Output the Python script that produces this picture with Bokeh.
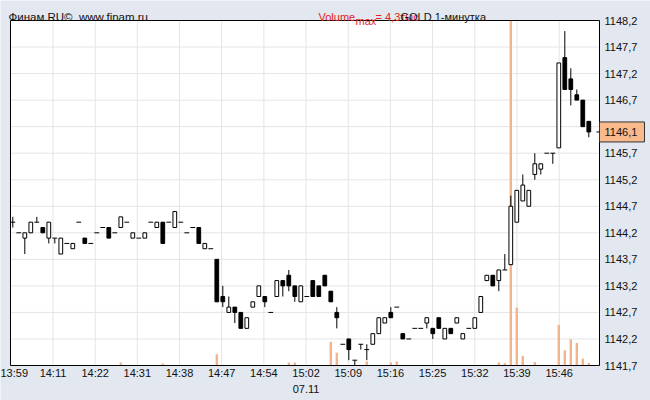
from bokeh.plotting import figure
from bokeh.models import (Range1d, FixedTicker, Label, ColumnDataSource,
                          CustomJSTickFormatter)
from bokeh.embed import file_html
from bokeh.resources import INLINE

# ---------------- data (1-minute GOLD candles) ----------------
opens = [1144.4, 1144.2, 1144.1, 1144.2, 1144.4, 1144.3, 1144.1, 1144.1, 1143.8, 1144.0,
         1143.9, 1144.4, 1144.1, 1144.0, 1144.2, 1144.3, 1144.3, 1144.2, 1144.3, 1144.4,
         1144.1, 1144.1, 1144.1, 1144.4, 1144.3, 1144.4, 1144.4, 1144.3, 1144.4, 1144.2,
         1144.3, 1144.3, 1143.9, 1143.9, 1143.7, 1143.0, 1142.7, 1142.8, 1142.7, 1142.4,
         1142.8, 1143.0, 1143.0, 1142.7, 1143.0, 1143.3, 1143.4, 1143.2, 1142.9, 1143.0,
         1143.3, 1143.2, 1143.4, 1143.1, 1142.7, 1142.1, 1142.2, 1141.8, 1142.1, 1142.0,
         1142.1, 1142.3, 1142.5, 1142.7, 1142.8, 1142.3, 1142.2, 1142.4, 1142.4, 1142.5,
         1142.4, 1142.6, 1142.2, 1142.4, 1142.5, 1142.2, 1142.4, 1142.4, 1142.7, 1143.3,
         1143.4, 1143.3, 1143.5, 1143.6, 1144.4, 1144.8, 1144.7, 1145.3, 1145.4, 1145.7,
         1145.7, 1145.8, 1147.5, 1147.1, 1146.8, 1146.7, 1146.3]
highs = [1144.5, 1144.2, 1144.2, 1144.4, 1144.5, 1144.3, 1144.4, 1144.1, 1144.1, 1144.0,
         1144.0, 1144.4, 1144.1, 1144.0, 1144.2, 1144.3, 1144.3, 1144.2, 1144.5, 1144.4,
         1144.2, 1144.1, 1144.2, 1144.4, 1144.4, 1144.4, 1144.4, 1144.6, 1144.4, 1144.2,
         1144.3, 1144.3, 1144.0, 1143.9, 1143.7, 1143.2, 1143.0, 1142.8, 1142.7, 1142.6,
         1142.9, 1143.2, 1143.0, 1142.7, 1143.3, 1143.3, 1143.5, 1143.2, 1143.2, 1143.0,
         1143.3, 1143.2, 1143.4, 1143.1, 1142.8, 1142.1, 1142.2, 1141.8, 1142.1, 1142.1,
         1142.3, 1142.6, 1142.6, 1142.8, 1142.8, 1142.3, 1142.2, 1142.4, 1142.4, 1142.6,
         1142.4, 1142.6, 1142.4, 1142.4, 1142.6, 1142.3, 1142.4, 1142.6, 1143.0, 1143.4,
         1143.4, 1143.5, 1143.8, 1144.9, 1145.0, 1145.3, 1145.0, 1145.7, 1145.5, 1145.7,
         1145.7, 1147.4, 1148.0, 1147.3, 1146.9, 1146.7, 1146.3]
lows = [1144.3, 1144.2, 1143.8, 1144.2, 1144.4, 1144.2, 1144.0, 1144.0, 1143.8, 1144.0,
        1143.9, 1144.4, 1144.0, 1144.0, 1144.2, 1144.3, 1144.1, 1144.2, 1144.3, 1144.4,
        1144.1, 1144.1, 1144.1, 1144.4, 1144.3, 1144.0, 1144.4, 1144.3, 1144.4, 1144.2,
        1144.3, 1144.0, 1143.9, 1143.9, 1142.9, 1142.8, 1142.7, 1142.5, 1142.4, 1142.4,
        1142.8, 1143.0, 1142.8, 1142.7, 1143.0, 1143.0, 1143.1, 1142.9, 1142.9, 1143.0,
        1143.0, 1143.0, 1143.2, 1142.9, 1142.4, 1142.1, 1141.8, 1141.7, 1142.0, 1141.8,
        1142.1, 1142.3, 1142.5, 1142.6, 1142.8, 1142.2, 1142.2, 1142.4, 1142.4, 1142.4,
        1142.2, 1142.4, 1142.2, 1142.3, 1142.5, 1142.2, 1142.4, 1142.4, 1142.7, 1143.3,
        1143.2, 1143.1, 1143.5, 1143.6, 1144.4, 1144.8, 1144.7, 1145.2, 1145.3, 1145.7,
        1145.5, 1145.8, 1146.9, 1146.6, 1146.7, 1146.2, 1146.0]
closes = [1144.4, 1144.2, 1144.2, 1144.4, 1144.4, 1144.2, 1144.4, 1144.1, 1144.1, 1144.0,
          1144.0, 1144.4, 1144.0, 1144.0, 1144.2, 1144.3, 1144.1, 1144.2, 1144.5, 1144.4,
          1144.2, 1144.1, 1144.2, 1144.4, 1144.4, 1144.0, 1144.4, 1144.6, 1144.4, 1144.2,
          1144.3, 1144.0, 1144.0, 1143.9, 1142.9, 1142.9, 1142.8, 1142.7, 1142.4, 1142.6,
          1142.9, 1143.2, 1142.9, 1142.7, 1143.3, 1143.2, 1143.2, 1143.0, 1143.2, 1143.0,
          1143.0, 1143.0, 1143.2, 1142.9, 1142.6, 1142.1, 1142.0, 1141.8, 1142.1, 1142.0,
          1142.3, 1142.6, 1142.6, 1142.6, 1142.8, 1142.2, 1142.2, 1142.4, 1142.4, 1142.6,
          1142.3, 1142.4, 1142.4, 1142.3, 1142.6, 1142.3, 1142.4, 1142.6, 1143.0, 1143.4,
          1143.2, 1143.5, 1143.5, 1144.7, 1145.0, 1145.1, 1145.0, 1145.5, 1145.5, 1145.7,
          1145.7, 1147.4, 1146.9, 1146.9, 1146.7, 1146.2, 1146.1]
volumes = [0, 0, 0, 0, 0, 0, 0, 0, 0, 0,
           0, 0, 0, 0, 0, 0, 0, 0, 37, 0,
           0, 0, 0, 0, 0, 25, 0, 0, 0, 0,
           0, 0, 0, 0, 140, 0, 0, 0, 0, 0,
           0, 0, 0, 0, 0, 0, 37, 37, 0, 0,
           0, 0, 0, 295, 160, 0, 0, 0, 0, 50,
           0, 0, 0, 37, 50, 0, 0, 0, 0, 0,
           0, 0, 0, 0, 0, 0, 0, 0, 0, 0,
           0, 37, 30, 4300, 721, 119, 0, 44, 0, 0,
           0, 506, 190, 327, 281, 85, 31]

time_labels = ["13:59", "14:11", "14:22", "14:31", "14:38", "14:47", "14:54",
               "15:02", "15:09", "15:16", "15:25", "15:32", "15:39", "15:46"]
date_label = "07.11"
price_ticks = [1141.7, 1142.2, 1142.7, 1143.2, 1143.7, 1144.2, 1144.7,
               1145.2, 1145.7, 1146.2, 1146.7, 1147.2, 1147.7, 1148.2]
last_price = 1146.1
volume_max = 4300          # "Volume max = 4,3 тыс."
instrument = "GOLD 1-минутка"
source_text = "Финам.RU©\u00a0\u00a0www.finam.ru"

# ---------------- styling / layout ----------------
BG = "#e2e7f0"
GRID = "#e4e4e4"
VOL_COLOR = "#f4b48a"
RED = "#e3241b"
TXT = "#111111"
MARK_FILL = "#f8b98d"
FONT = "Liberation Sans"

W, H = 650, 400
PLOT_L, PLOT_R, PLOT_T, PLOT_B = 10, 599, 20, 365   # plot box in picture pixels
PX_PER_CANDLE = 6.0
FIRST_CANDLE_PX = 12.3
TICK_STEP = 7.03           # candles between time labels
TICK_OFFSET = -0.333

Y0, Y1 = price_ticks[0], price_ticks[-1]
py_per_unit = (PLOT_B - PLOT_T) / (Y1 - Y0)


def xd(px):  # picture x -> data x
    return (px - FIRST_CANDLE_PX) / PX_PER_CANDLE


def yd(py):  # picture y (from top) -> data y
    return Y1 - (py - PLOT_T) / py_per_unit


vol_per_px = volume_max / (PLOT_B - PLOT_T)

n = len(opens)
idx = list(range(n))
grid_pos = [TICK_OFFSET + TICK_STEP * k for k in range(len(time_labels))]
label_pos = [xd(13.5)] + grid_pos[1:]   # first label kept inside the picture

p = figure(width=W, height=H, x_range=Range1d(xd(0), xd(W)), y_range=Range1d(yd(H), yd(0)),
           y_axis_location="right", output_backend="svg", toolbar_location=None,
           min_border=0, min_border_left=0, min_border_right=0,
           min_border_top=0, min_border_bottom=0)
p.background_fill_color = BG
p.border_fill_color = BG
p.outline_line_color = None
p.extra_y_ranges = {"vol": Range1d(-(H - PLOT_B) * vol_per_px, volume_max + PLOT_T * vol_per_px)}
p.grid.visible = False

# axes, fixed to the plot box edges
yax = p.yaxis[0]
yax.fixed_location = xd(PLOT_R)
yax.ticker = FixedTicker(ticks=price_ticks + [last_price])
yax.formatter = CustomJSTickFormatter(args=dict(hide=price_ticks[9]), code="""
    if (Math.abs(tick - hide) < 0.01) { return ""; }
    return tick.toFixed(1).replace(".", ",");
""")
xax = p.xaxis[0]
xax.fixed_location = Y0
xax.ticker = FixedTicker(ticks=label_pos)
xax.formatter = CustomJSTickFormatter(args=dict(pos=label_pos, labs=time_labels), code="""
    let best = 0, bd = 1e9;
    for (let i = 0; i < pos.length; i++) {
        const d = Math.abs(pos[i] - tick);
        if (d < bd) { bd = d; best = i; }
    }
    return labs[best];
""")
for ax in (xax, yax):
    ax.axis_line_color = None
    ax.major_tick_line_color = None
    ax.minor_tick_line_color = None
    ax.major_tick_out = 0
    ax.major_tick_in = 0
    ax.minor_tick_out = 0
    ax.major_label_text_font = FONT
    ax.major_label_text_font_size = "11px"
    ax.major_label_text_color = TXT
xax.major_label_standoff = 1
yax.major_label_standoff = 5

# plot box
p.quad(left=[xd(PLOT_L)], right=[xd(PLOT_R)], bottom=[Y0], top=[Y1],
       fill_color="white", line_color=None)

# grid lines inside the plot box
p.segment(x0=grid_pos[1:], x1=grid_pos[1:], y0=[Y0] * (len(grid_pos) - 1),
          y1=[Y1] * (len(grid_pos) - 1), line_color=GRID, line_width=1)
p.segment(x0=[xd(PLOT_L)] * len(price_ticks), x1=[xd(PLOT_R)] * len(price_ticks),
          y0=price_ticks, y1=price_ticks, line_color=GRID, line_width=1)

# volume bars
vsrc = ColumnDataSource(dict(x=idx, v=volumes))
p.vbar(x="x", top="v", bottom=0, width=0.4, source=vsrc, y_range_name="vol",
       fill_color=VOL_COLOR, line_color=None)

# wicks
wx = [i for i in idx if highs[i] > lows[i]]
wsrc = ColumnDataSource(dict(x=wx, lo=[lows[i] for i in wx], hi=[highs[i] for i in wx]))
p.segment(x0="x", y0="lo", x1="x", y1="hi", source=wsrc, line_color="black", line_width=1)

# bodies
bx = [i for i in idx if opens[i] != closes[i]]
bsrc = ColumnDataSource(dict(
    x=bx,
    top=[max(opens[i], closes[i]) for i in bx],
    bot=[min(opens[i], closes[i]) for i in bx],
    fill=["white" if closes[i] > opens[i] else "black" for i in bx]))
p.vbar(x="x", top="top", bottom="bot", width=0.62, source=bsrc,
       fill_color="fill", line_color="black", line_width=1)

# doji (open == close)
dx = [i for i in idx if opens[i] == closes[i]]
dsrc = ColumnDataSource(dict(x0=[i - 0.4 for i in dx], x1=[i + 0.4 for i in dx],
                             y=[opens[i] for i in dx]))
p.segment(x0="x0", y0="y", x1="x1", y1="y", source=dsrc, line_color="black", line_width=1)

# plot box border (drawn last, on top of the grid)
p.quad(left=[xd(PLOT_L)], right=[xd(PLOT_R)], bottom=[Y0], top=[Y1],
       fill_color=None, line_color="black", line_width=1)

# last price marker on the price scale (its text is the axis tick label)
p.quad(left=[xd(PLOT_R)], right=[xd(644)], bottom=[last_price - 10 / py_per_unit],
       top=[last_price + 10 / py_per_unit], fill_color=MARK_FILL, line_color="#333333")
p.segment(x0=[xd(PLOT_R - 3)], x1=[xd(PLOT_R)], y0=[last_price], y1=[last_price],
          line_color="black")


# ---------------- header and date texts ----------------
def lab(text, px, py, color=TXT, align="left", size="11px"):
    p.add_layout(Label(x=xd(px), y=yd(py), text=text, text_color=color,
                       text_align=align, text_baseline="alphabetic",
                       text_font=FONT, text_font_size=size))


lab(source_text, 8, 16.5, size="11.5px")
lab("Volume", 318, 16.5, color=RED)
lab("max", 355, 20, color=RED)
lab("= 4,3тыс.", 375, 16.5, color=RED)
lab(instrument, 400, 16.5)
p.add_layout(Label(x=grid_pos[7], y=yd(388.5), text=date_label, text_color=TXT,
                   text_align="center", text_baseline="alphabetic",
                   text_font=FONT, text_font_size="11px"))

open("out.html", "w").write(file_html(p, INLINE))
